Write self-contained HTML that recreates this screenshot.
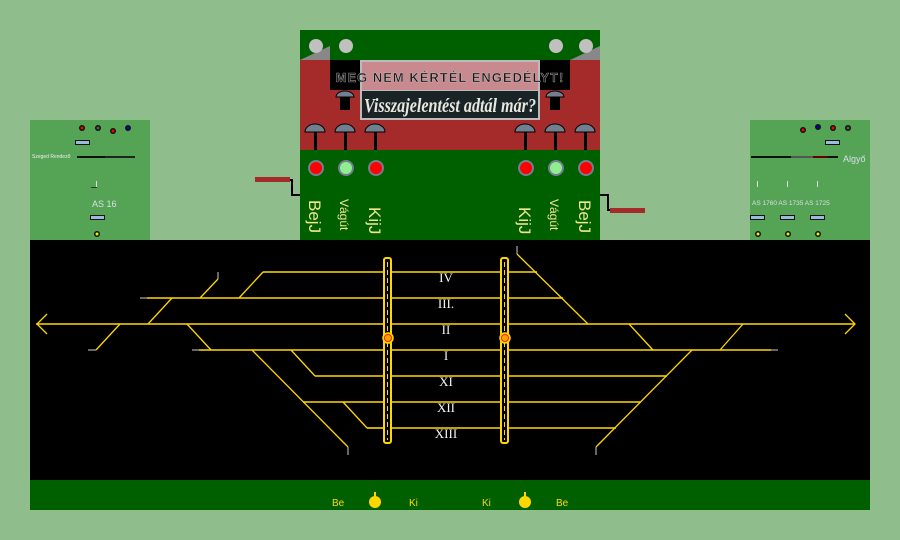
<!DOCTYPE html>
<html><head><style>
html,body{margin:0;padding:0;background:#8fbd8c;}
svg{display:block}
</style></head><body>
<svg width="900" height="540" viewBox="0 0 900 540" xmlns="http://www.w3.org/2000/svg" font-family="Liberation Sans, sans-serif">
<rect width="900" height="540" fill="#8fbd8c"/>
<rect x="30" y="120" width="120" height="120" fill="#55a455"/>
<rect x="750" y="120" width="120" height="120" fill="#55a455"/>
<g>
<circle cx="82" cy="128" r="3" fill="#111"/><circle cx="82" cy="128" r="1.5" fill="red"/>
<circle cx="98" cy="128" r="3" fill="#111"/><circle cx="98" cy="128" r="1.5" fill="#555"/>
<circle cx="113" cy="131" r="3" fill="#111"/><circle cx="113" cy="131" r="1.5" fill="red"/>
<circle cx="128" cy="128" r="3" fill="#111"/><circle cx="128" cy="128" r="1.5" fill="#00c"/>
<rect x="75" y="140" width="15" height="5" fill="#111"/><rect x="76" y="141" width="13" height="3" fill="#9bd"/>
<text x="32" y="158" font-size="5" fill="#eee">Szeged Rendező</text>
<rect x="77" y="156" width="28" height="2" fill="#111"/>
<rect x="105" y="156" width="30" height="2" fill="#222"/>
<rect x="96" y="181" width="1" height="6" fill="#ddd"/><rect x="91" y="187" width="6" height="1" fill="#333"/>
<text x="92" y="207" font-size="9" fill="#dde">AS 16</text>
<rect x="90" y="215" width="15" height="5" fill="#111"/><rect x="91" y="216" width="13" height="3" fill="#9bd"/>
<circle cx="97" cy="234" r="3" fill="#111"/><circle cx="97" cy="234" r="1.5" fill="#ee0"/>
</g>
<g>
<circle cx="803" cy="130" r="3" fill="#111"/><circle cx="803" cy="130" r="1.5" fill="red"/>
<circle cx="818" cy="127" r="3" fill="#111"/><circle cx="818" cy="127" r="1.5" fill="#00c"/>
<circle cx="833" cy="128" r="3" fill="#111"/><circle cx="833" cy="128" r="1.5" fill="red"/>
<circle cx="848" cy="128" r="3" fill="#111"/><circle cx="848" cy="128" r="1.5" fill="#555"/>
<rect x="825" y="140" width="15" height="5" fill="#111"/><rect x="826" y="141" width="13" height="3" fill="#9bd"/>
<rect x="751" y="156" width="40" height="2" fill="#111"/><rect x="791" y="156" width="22" height="2" fill="#555"/>
<rect x="813" y="156" width="15" height="2" fill="#600"/><rect x="828" y="156" width="10" height="2" fill="#111"/>
<text x="843" y="162" font-size="9" fill="#dde">Algyő</text>
<g fill="#ddd"><rect x="757" y="181" width="1" height="6"/><rect x="787" y="181" width="1" height="6"/><rect x="817" y="181" width="1" height="6"/></g>
<text x="752" y="205" font-size="6.5" fill="#dde">AS 1760 AS 1735 AS 1725</text>
<g fill="#111"><rect x="750" y="215" width="15" height="5"/><rect x="780" y="215" width="15" height="5"/><rect x="810" y="215" width="15" height="5"/></g>
<g fill="#9bd"><rect x="751" y="216" width="13" height="3"/><rect x="781" y="216" width="13" height="3"/><rect x="811" y="216" width="13" height="3"/></g>
<g fill="#111"><circle cx="758" cy="234" r="3"/><circle cx="788" cy="234" r="3"/><circle cx="818" cy="234" r="3"/></g>
<g fill="#ee0"><circle cx="758" cy="234" r="1.5"/><circle cx="788" cy="234" r="1.5"/><circle cx="818" cy="234" r="1.5"/></g>
</g>
<rect x="255" y="177" width="35" height="5" fill="#a52a2a"/>
<polyline points="290,180 292,180 292,195 300,195" fill="none" stroke="#000" stroke-width="2"/>
<rect x="610" y="208" width="35" height="5" fill="#a52a2a"/>
<polyline points="600,195 608,195 608,210 610,210" fill="none" stroke="#000" stroke-width="2"/>
<rect x="300" y="30" width="300" height="210" fill="#006000"/>
<rect x="300" y="60" width="300" height="90" fill="#a52a2a"/>
<polygon points="300,60 330,46 330,60" fill="#888"/>
<polygon points="570,60 600,46 600,60" fill="#888"/>
<g fill="#c0c0c0"><circle cx="316" cy="46" r="7"/><circle cx="346" cy="46" r="7"/><circle cx="556" cy="46" r="7"/><circle cx="586" cy="46" r="7"/></g>
<rect x="330" y="60" width="30" height="30" fill="#000"/>
<rect x="540" y="60" width="30" height="30" fill="#000"/>
<rect x="360" y="60" width="180" height="60" fill="#bbb"/>
<rect x="362" y="62" width="176" height="28" fill="#c98a8f"/>
<rect x="362" y="91" width="176" height="27" fill="#1a2426"/>
<text x="450" y="82" font-size="13" font-weight="bold" fill="#1a1a1a" text-anchor="middle" letter-spacing="1" stroke="#ddd" stroke-width="0.3">MEG NEM KÉRTÉL ENGEDÉLYT!</text>
<text x="450" y="112" font-size="20" font-style="italic" font-weight="bold" font-family="Liberation Serif, serif" fill="#e8e8e0" text-anchor="middle" textLength="172" lengthAdjust="spacingAndGlyphs">Visszajelentést adtál már?</text>
<g fill="#708090" stroke="#000" stroke-width="1">
<path d="M336,97 a9,6 0 0 1 18,0 z"/><path d="M546,97 a9,6 0 0 1 18,0 z"/>
</g>
<rect x="340" y="97" width="10" height="13" fill="#000"/><rect x="550" y="97" width="10" height="13" fill="#000"/>
<g fill="#708090" stroke="#000" stroke-width="1">
<path d="M305,132 a10,8 0 0 1 20,0 z"/><path d="M335,132 a10,8 0 0 1 20,0 z"/><path d="M365,132 a10,8 0 0 1 20,0 z"/>
<path d="M515,132 a10,8 0 0 1 20,0 z"/><path d="M545,132 a10,8 0 0 1 20,0 z"/><path d="M575,132 a10,8 0 0 1 20,0 z"/>
</g>
<g fill="#000"><rect x="314" y="132" width="3" height="18"/><rect x="344" y="132" width="3" height="18"/><rect x="374" y="132" width="3" height="18"/><rect x="524" y="132" width="3" height="18"/><rect x="554" y="132" width="3" height="18"/><rect x="584" y="132" width="3" height="18"/></g>
<g stroke="#708090" stroke-width="2">
<circle cx="316" cy="168" r="7" fill="red"/><circle cx="346" cy="168" r="7" fill="#90ee90"/><circle cx="376" cy="168" r="7" fill="red"/>
<circle cx="526" cy="168" r="7" fill="red"/><circle cx="556" cy="168" r="7" fill="#90ee90"/><circle cx="586" cy="168" r="7" fill="red"/>
</g>
<g fill="#f0e68c">
<text transform="translate(309,200) rotate(90)" font-size="17">BejJ</text>
<text transform="translate(340,199) rotate(90)" font-size="12">Vágút</text>
<text transform="translate(369,207) rotate(90)" font-size="17">KijJ</text>
<text transform="translate(519,207) rotate(90)" font-size="17">KijJ</text>
<text transform="translate(550,199) rotate(90)" font-size="12">Vágút</text>
<text transform="translate(579,200) rotate(90)" font-size="17">BejJ</text>
</g>
<rect x="30" y="240" width="840" height="240" fill="#000"/>
<rect x="30" y="480" width="840" height="30" fill="#006000"/>
<g stroke="#ffd700" stroke-width="1.6" fill="none">
<line x1="263" y1="272" x2="383" y2="272"/><line x1="392" y1="272" x2="500" y2="272"/><line x1="509" y1="272" x2="537" y2="272"/>
<line x1="147" y1="298" x2="383" y2="298"/><line x1="392" y1="298" x2="500" y2="298"/><line x1="509" y1="298" x2="563" y2="298"/>
<line x1="36" y1="324" x2="383" y2="324"/><line x1="392" y1="324" x2="500" y2="324"/><line x1="509" y1="324" x2="855" y2="324"/>
<line x1="199" y1="350" x2="383" y2="350"/><line x1="392" y1="350" x2="500" y2="350"/><line x1="509" y1="350" x2="771" y2="350"/>
<line x1="315" y1="376" x2="383" y2="376"/><line x1="392" y1="376" x2="500" y2="376"/><line x1="509" y1="376" x2="667" y2="376"/>
<line x1="303" y1="402" x2="383" y2="402"/><line x1="392" y1="402" x2="500" y2="402"/><line x1="509" y1="402" x2="641" y2="402"/>
<line x1="367" y1="428" x2="383" y2="428"/><line x1="392" y1="428" x2="500" y2="428"/><line x1="509" y1="428" x2="616" y2="428"/>
</g>
<g stroke="#ffd700" stroke-width="1.3" fill="none">
<polyline points="47,314 37,324 47,334"/><polyline points="845,314 855,324 845,334"/>
<line x1="239" y1="298" x2="263" y2="272"/>
<line x1="200" y1="298" x2="218" y2="279"/>
<line x1="148" y1="324" x2="172" y2="298"/>
<line x1="120" y1="324" x2="96" y2="350"/>
<line x1="187" y1="324" x2="211" y2="350"/>
<line x1="252" y1="350" x2="348" y2="447"/>
<line x1="291" y1="350" x2="315" y2="376"/>
<line x1="343" y1="402" x2="367" y2="428"/>
<line x1="517" y1="254" x2="588" y2="324"/>
<line x1="629" y1="324" x2="653" y2="350"/>
<line x1="743" y1="324" x2="720" y2="350"/>
<line x1="692" y1="350" x2="596" y2="447"/>
</g>
<g stroke="#aaa" stroke-width="1.2">
<line x1="218" y1="272" x2="218" y2="279"/><line x1="140" y1="298" x2="147" y2="298"/>
<line x1="88" y1="350" x2="96" y2="350"/><line x1="192" y1="350" x2="199" y2="350"/>
<line x1="348" y1="447" x2="348" y2="455"/><line x1="517" y1="246" x2="517" y2="254"/>
<line x1="771" y1="350" x2="778" y2="350"/><line x1="596" y1="447" x2="596" y2="455"/>
</g>
<g stroke="#ffd700" stroke-width="2" fill="none">
<rect x="384" y="258" width="7" height="185" rx="2"/>
<rect x="501" y="258" width="7" height="185" rx="2"/>
</g>
<g stroke="#ffd700" stroke-width="1" stroke-dasharray="5,3">
<line x1="387.5" y1="262" x2="387.5" y2="440"/><line x1="504.5" y1="262" x2="504.5" y2="440"/>
</g>
<circle cx="388" cy="338" r="5" fill="#ffa500" stroke="#ffd700" stroke-width="1.5"/><circle cx="388" cy="338" r="3.5" fill="none" stroke="red" stroke-width="0.8"/>
<circle cx="505" cy="338" r="5" fill="#ffa500" stroke="#ffd700" stroke-width="1.5"/><circle cx="505" cy="338" r="3.5" fill="none" stroke="red" stroke-width="0.8"/>
<g fill="#f5f5f5" font-family="Liberation Serif, serif" font-size="13" text-anchor="middle">
<text x="446" y="282">IV</text><text x="446" y="308">III.</text><text x="446" y="334">II</text><text x="446" y="360">I</text>
<text x="446" y="386">XI</text><text x="446" y="412">XII</text><text x="446" y="438">XIII</text>
</g>
<g fill="#ffd700" font-size="10">
<text x="332" y="506">Be</text><text x="409" y="506">Ki</text><text x="482" y="506">Ki</text><text x="556" y="506">Be</text>
</g>
<g fill="#ffd700"><circle cx="375" cy="502" r="6"/><rect x="374" y="492" width="2" height="5"/><circle cx="525" cy="502" r="6"/><rect x="524" y="492" width="2" height="5"/></g>
</svg>
</body></html>
